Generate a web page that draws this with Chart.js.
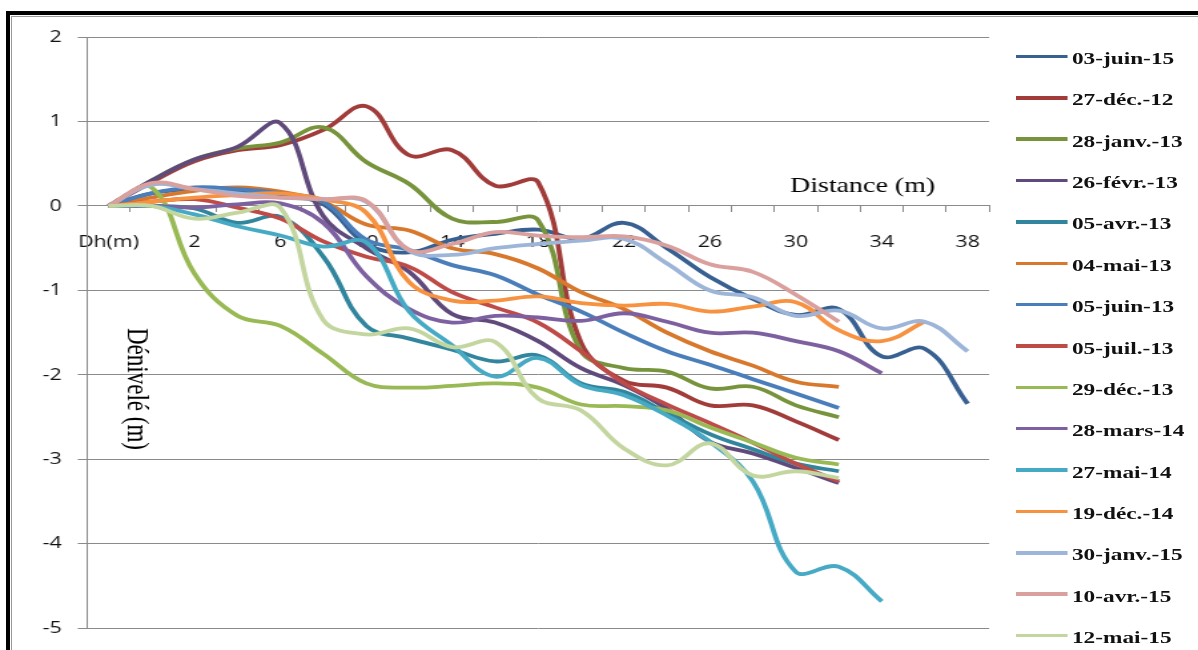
<!DOCTYPE html>
<html>
<head>
<meta charset="utf-8">
<title>Profils - Dénivelé / Distance</title>
<script src="https://cdn.jsdelivr.net/npm/chart.js@4"></script>
<style>
    body { margin: 0; background: #fff; overflow: hidden; }
    /* the original picture is stretched sideways, so the whole chart is drawn narrow and scaled */
    #wrap { position: absolute; left: 0; top: 0; width: 900px; height: 650px; transform: scaleX(1.3311); transform-origin: 0 0; }
    #legend .item { position: absolute; left: 763.3px; height: 20px; display: flex; align-items: center; white-space: nowrap; }
    #legend .swatch { width: 39px; height: 3.5px; position: relative; top: -2px; }
    #legend .label { margin-left: 3px; font: bold 17.5px "Liberation Serif", serif; color: #111; }
    #frame { position: absolute; left: 6px; top: 11px; width: 1400px; height: 900px; border-left: 4px solid #000; border-top: 4px solid #000; }
    #frameInner { position: absolute; left: 11px; top: 16px; width: 1400px; height: 900px; border-left: 1px solid #999; border-top: 1px solid #999; }
</style>
</head>
<body>
<div id="wrap">
    <canvas id="chart" width="900" height="650"></canvas>
    <div id="legend"></div>
</div>
<div id="frame"></div>
<div id="frameInner"></div>
<script>
// Distance categories (first one is the header cell of the sheet)
const distLabels = ['Dh(m)', '0', '2', '4', '6', '8', '10', '12', '14', '16', '18',
    '20', '22', '24', '26', '28', '30', '32', '34', '36', '38'];

const xTitle = 'Distance (m)';
const yTitle = 'Dénivelé (m)';

const seriesNames = ['03-juin-15', '27-déc.-12', '28-janv.-13', '26-févr.-13', '05-avr.-13',
    '04-mai-13', '05-juin-13', '05-juil.-13', '29-déc.-13', '28-mars-14', '27-mai-14',
    '19-déc.-14', '30-janv.-15', '10-avr.-15', '12-mai-15'];

const seriesColors = ['#386192', '#A13C3A', '#77943C', '#604A7B', '#31859C',
    '#D8782C', '#4A7EBB', '#BE4B48', '#98B954', '#7D60A0', '#46AAC5',
    '#F69240', '#9DB5D8', '#D9A09E', '#C4D6A0'];

// Elevation (m) per distance category
const juin15 = [0, 0.15, 0.2, 0.18, 0.12, 0.02, -0.45, -0.55, -0.4, -0.33, -0.28, -0.39, -0.2, -0.5, -0.84, -1.1, -1.29, -1.22, -1.78, -1.69, -2.34];
const dec12 = [0, 0.28, 0.53, 0.66, 0.72, 0.9, 1.18, 0.6, 0.66, 0.24, 0.28, -1.62, -2.07, -2.15, -2.36, -2.36, -2.55, -2.77];
const janv13 = [0, 0.3, 0.55, 0.68, 0.75, 0.93, 0.52, 0.26, -0.15, -0.19, -0.17, -1.72, -1.92, -1.96, -2.16, -2.14, -2.36, -2.5];
const fevr13 = [0, 0.3, 0.55, 0.7, 0.98, -0.12, -0.5, -0.78, -1.28, -1.38, -1.6, -1.92, -2.12, -2.4, -2.79, -2.93, -3.1, -3.28];
const avr13 = [0, 0.0, -0.03, -0.2, -0.13, -0.6, -1.42, -1.57, -1.7, -1.84, -1.77, -2.1, -2.2, -2.45, -2.7, -2.88, -3.05, -3.14];
const mai13 = [0, 0.1, 0.18, 0.22, 0.17, 0.05, -0.22, -0.29, -0.5, -0.57, -0.74, -1.02, -1.22, -1.5, -1.72, -1.89, -2.08, -2.14];
const juin13 = [0, 0.15, 0.22, 0.2, 0.15, 0.05, -0.4, -0.52, -0.7, -0.82, -1.05, -1.25, -1.5, -1.72, -1.88, -2.05, -2.22, -2.39];
const juil13 = [0, 0.05, 0.08, -0.02, -0.15, -0.42, -0.6, -0.72, -1.02, -1.2, -1.38, -1.72, -2.1, -2.35, -2.57, -2.8, -3.05, -3.26];
const dec13 = [0, 0.22, -0.8, -1.3, -1.42, -1.75, -2.1, -2.15, -2.13, -2.1, -2.15, -2.35, -2.37, -2.42, -2.62, -2.8, -2.98, -3.06];
const mars14 = [0, 0.0, -0.02, 0.02, 0.03, -0.2, -0.83, -1.22, -1.38, -1.3, -1.32, -1.36, -1.27, -1.37, -1.5, -1.5, -1.6, -1.72, -1.98];
const mai14 = [0, 0.0, -0.1, -0.24, -0.35, -0.48, -0.43, -1.25, -1.65, -2.02, -1.8, -2.12, -2.24, -2.48, -2.79, -3.26, -4.33, -4.27, -4.68];
const dec14 = [0, 0.05, 0.1, 0.13, 0.15, 0.08, -0.08, -0.9, -1.12, -1.12, -1.07, -1.15, -1.18, -1.16, -1.25, -1.19, -1.14, -1.47, -1.6, -1.37];
const janv15 = [0, 0.25, 0.2, 0.15, 0.1, 0.08, 0.05, -0.53, -0.58, -0.5, -0.45, -0.41, -0.39, -0.68, -1.0, -1.08, -1.3, -1.24, -1.45, -1.37, -1.72];
const avr15 = [0, 0.27, 0.2, 0.12, 0.1, 0.08, 0.06, -0.52, -0.45, -0.31, -0.35, -0.37, -0.36, -0.47, -0.69, -0.78, -1.05, -1.37];
const mai15 = [0, 0.0, -0.15, -0.08, -0.02, -1.35, -1.52, -1.45, -1.67, -1.61, -2.28, -2.42, -2.87, -3.07, -2.81, -3.19, -3.14, -3.22];

const seriesData = [juin15, dec12, janv13, fevr13, avr13, mai13, juin13, juil13,
    dec13, mars14, mai14, dec14, janv15, avr15, mai15];

const gridColor = '#8a8a8a';
const tickFont = { family: '"Open Sans", sans-serif', size: 16 };

// Axis titles sit inside the plot, like in the original sheet
const axisTitles = {
    id: 'axisTitles',
    afterDraw(chart) {
        const ctx = chart.ctx;
        const zeroY = chart.scales.y.getPixelForValue(0);
        ctx.save();
        ctx.fillStyle = '#000';
        ctx.textBaseline = 'alphabetic';
        ctx.textAlign = 'left';
        ctx.font = '21px "Liberation Serif", serif';
        ctx.fillText(xTitle, chart.chartArea.right - 149.6, zeroY - 14);
        ctx.translate(chart.chartArea.left + 30.8, 328);
        ctx.rotate(Math.PI / 2);
        ctx.font = '23px "Liberation Serif", serif';
        ctx.fillText(yTitle, 0, 0);
        ctx.restore();
    }
};

const datasets = seriesNames.map((name, i) => ({
    label: name,
    data: seriesData[i],
    borderColor: seriesColors[i],
    backgroundColor: seriesColors[i],
    order: seriesNames.length - i
}));

new Chart(document.getElementById('chart'), {
    type: 'line',
    data: { labels: distLabels, datasets },
    options: {
        responsive: false,
        animation: false,
        layout: { padding: { left: 0, top: 37, right: 156.9, bottom: 20 } },
        elements: {
            point: { radius: 0 },
            line: { borderWidth: 3.8, tension: 0.4 }
        },
        plugins: {
            legend: { display: false },
            tooltip: { enabled: false }
        },
        scales: {
            x: {
                type: 'category',
                offset: true,
                position: { y: 0 },
                grid: { offset: true, drawOnChartArea: false, drawTicks: true, tickLength: 6, color: gridColor },
                border: { display: true, color: gridColor },
                ticks: {
                    autoSkip: false,
                    maxRotation: 0,
                    padding: 21,
                    color: '#111',
                    font: tickFont,
                    callback: (value, index) => (index % 2 === 0 ? distLabels[index] : '')
                }
            },
            y: {
                min: -5,
                max: 2,
                grid: { color: gridColor, tickLength: 7 },
                border: { display: true, color: gridColor },
                ticks: { stepSize: 1, padding: 12, color: '#111', font: tickFont },
                afterFit: (scale) => { scale.width = 65.4; }
            }
        }
    },
    plugins: [axisTitles]
});

// Legend on the right
const legend = document.getElementById('legend');
seriesNames.forEach((name, i) => {
    const row = document.createElement('div');
    row.className = 'item';
    row.style.top = (48.5 + i * 41.36) + 'px';
    row.innerHTML = `<span class="swatch" style="background:${seriesColors[i]}"></span><span class="label">${name}</span>`;
    legend.appendChild(row);
});
</script>
</body>
</html>
